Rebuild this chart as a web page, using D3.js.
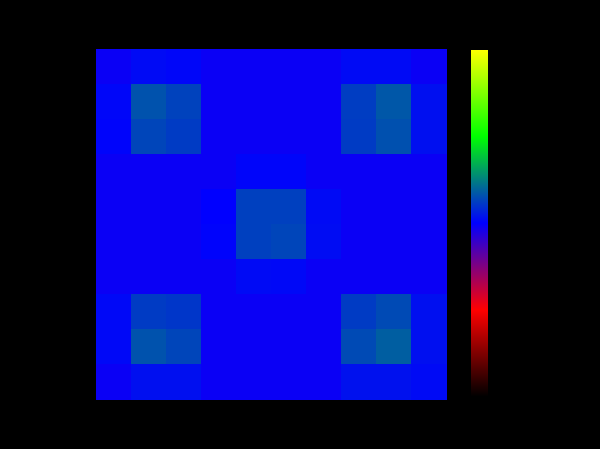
<!DOCTYPE html>
<html>
<head>
<meta charset="utf-8">
<script src="https://cdn.jsdelivr.net/npm/d3@7"></script>
<style>
  html, body { margin: 0; padding: 0; background: #000; }
  svg { display: block; }
</style>
</head>
<body>
<div id="chart"></div>
<script>
// heatmap values, row by row (top to bottom)
var row0 = [0.490, 0.510, 0.506, 0.490, 0.490, 0.490, 0.490, 0.510, 0.510, 0.490];
var row1 = [0.506, 0.580, 0.565, 0.490, 0.490, 0.490, 0.490, 0.560, 0.585, 0.515];
var row2 = [0.504, 0.568, 0.558, 0.490, 0.490, 0.490, 0.490, 0.558, 0.578, 0.515];
var row3 = [0.490, 0.490, 0.490, 0.490, 0.505, 0.505, 0.490, 0.490, 0.490, 0.490];
var row4 = [0.490, 0.490, 0.490, 0.500, 0.563, 0.563, 0.510, 0.490, 0.490, 0.490];
var row5 = [0.490, 0.490, 0.490, 0.503, 0.563, 0.568, 0.512, 0.490, 0.490, 0.490];
var row6 = [0.490, 0.490, 0.490, 0.490, 0.510, 0.508, 0.490, 0.490, 0.490, 0.490];
var row7 = [0.508, 0.558, 0.553, 0.490, 0.490, 0.490, 0.490, 0.558, 0.573, 0.515];
var row8 = [0.508, 0.580, 0.568, 0.490, 0.490, 0.490, 0.490, 0.573, 0.592, 0.515];
var row9 = [0.490, 0.515, 0.515, 0.490, 0.490, 0.490, 0.490, 0.517, 0.517, 0.510];
var rows = [row0, row1, row2, row3, row4, row5, row6, row7, row8, row9];

// colormap stops
var colorStops = [0, 0.25, 0.5, 0.75, 1];
var colorRange = ["#000000", "#ff0000", "#0000ff", "#00ff00", "#ffff00"];

var W = 600, H = 449;

var svg = d3.select("#chart")
    .append("svg")
    .attr("width", W)
    .attr("height", H);

svg.append("rect")
    .attr("width", W)
    .attr("height", H)
    .attr("fill", "#000");

var color = d3.scaleLinear()
    .domain(colorStops)
    .range(colorRange)
    .interpolate(d3.interpolateRgb);

var x = d3.scaleBand()
    .domain(d3.range(rows[0].length))
    .range([96, 446]);

var y = d3.scaleBand()
    .domain(d3.range(rows.length))
    .range([49, 399]);

var cells = [];
rows.forEach((r, i) => r.forEach((v, j) => cells.push({row: i, col: j, value: v})));

svg.append("g")
    .selectAll("rect")
    .data(cells)
    .enter()
    .append("rect")
    .attr("x", d => x(d.col))
    .attr("y", d => y(d.row))
    .attr("width", x.bandwidth() + 0.5)
    .attr("height", y.bandwidth() + 0.5)
    .attr("fill", d => color(d.value))
    .attr("shape-rendering", "crispEdges");

// colour bar
var cb = d3.scaleLinear()
    .domain([0, 1])
    .range([397, 50]);

var steps = d3.range(0, 1, 1 / 347);
svg.append("g")
    .selectAll("rect")
    .data(steps)
    .enter()
    .append("rect")
    .attr("x", 471)
    .attr("y", d => cb(d) - 1.5)
    .attr("width", 17)
    .attr("height", 1.6)
    .attr("fill", d => color(d))
    .attr("shape-rendering", "crispEdges");
</script>
</body>
</html>
